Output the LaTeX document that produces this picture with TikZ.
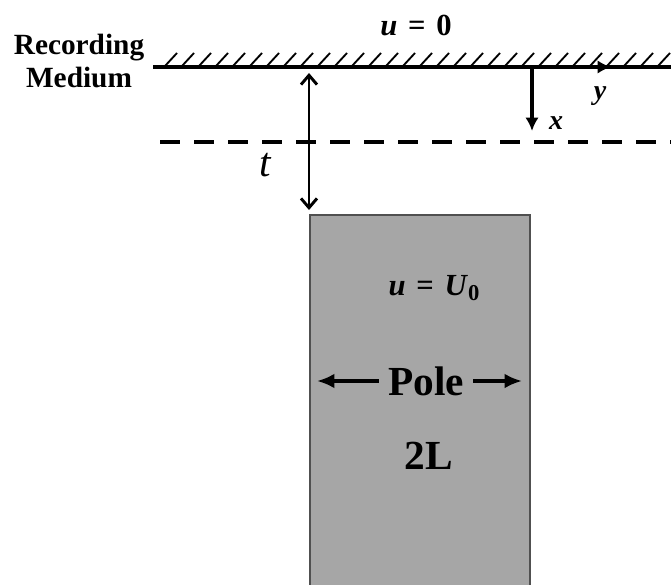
\documentclass[tikz,border=0pt]{standalone}
\usepackage{fontspec}
\setmainfont{Liberation Serif}
\usetikzlibrary{arrows.meta}
\tikzset{
  myarrow/.style={line width=2.4pt, -{Latex[length=13pt,width=11pt]}},
  axarrow/.style={line width=2.4pt, -{Latex[length=10pt,width=10pt]}},
  mydim/.style={line width=2.2pt, {Straight Barb[length=7pt,width=12pt,line width=2.2pt]}-{Straight Barb[length=7pt,width=12pt,line width=2.2pt]}},
  axlbl/.style={font=\bfseries\itshape\fontsize{21}{21}\selectfont, inner sep=0pt},
  mathlbl/.style={font=\bfseries\fontsize{23}{23}\selectfont, inner sep=0pt},
  bigbold/.style={font=\bfseries\fontsize{31}{31}\selectfont},
}
\begin{document}
\begin{tikzpicture}[x=0.75pt,y=-0.75pt]
\useasboundingbox (0,0) rectangle (671,585);
% pole
\fill[fill={rgb,255:red,166;green,166;blue,166}, draw={rgb,255:red,80;green,80;blue,80}, line width=0.8pt] (310,215) rectangle (530,590);
% medium hatching
\begin{scope}
\clip (150,40) rectangle (671,70);
\foreach \i in {165,182,...,690} \draw[line width=1.4pt] (\i,66) -- (\i+12,53);
\end{scope}
\coordinate (ml) at (153,67);
\coordinate (mr) at (671,67);
\draw[line width=3pt] (ml) -- (mr);
% dashed
\coordinate (dl) at (160,142);
\coordinate (dr) at (671,142);
\draw[line width=3pt, dash pattern=on 15pt off 10.5pt] (dl) -- (dr);
% t arrow
\coordinate (ta) at (309,73);
\coordinate (tb) at (309,210);
\draw[mydim] (ta) -- (tb);
\node[font=\itshape\fontsize{31}{31}\selectfont, inner sep=0pt] (t) at (265,165) {t};
% axes
\coordinate (o) at (532,67);
\coordinate (xe) at (532,131);
\coordinate (ye) at (611,67);
\draw[axarrow] (o) -- (xe);
\draw[axarrow] (o) -- (ye);
\node[axlbl] (xl) at (556,123) {x};
\node[axlbl] (yl) at (600,96) {y};
% labels
\node[align=center, font=\bfseries\fontsize{22}{25}\selectfont, inner sep=0pt] (rm) at (79,61) {Recording\\Medium};
\node[mathlbl] (u0) at (416,25) {\textit{u}\hspace{0.35em}=\hspace{0.35em}0};
\node[mathlbl] (uU) at (434,288) {\textit{u}\hspace{0.35em}=\hspace{0.35em}\textit{U}\raisebox{-0.3ex}{\fontsize{17}{17}\selectfont 0}};
\node[bigbold, inner sep=7pt] (pole) at (426,381) {Pole};
\node[bigbold, inner sep=0pt] (two) at (429,456) {2L};
\coordinate (pl) at (317,381);
\coordinate (pr) at (522,381);
\draw[myarrow] (pole.west) -- (pl);
\draw[myarrow] (pole.east) -- (pr);
\end{tikzpicture}
\end{document}
